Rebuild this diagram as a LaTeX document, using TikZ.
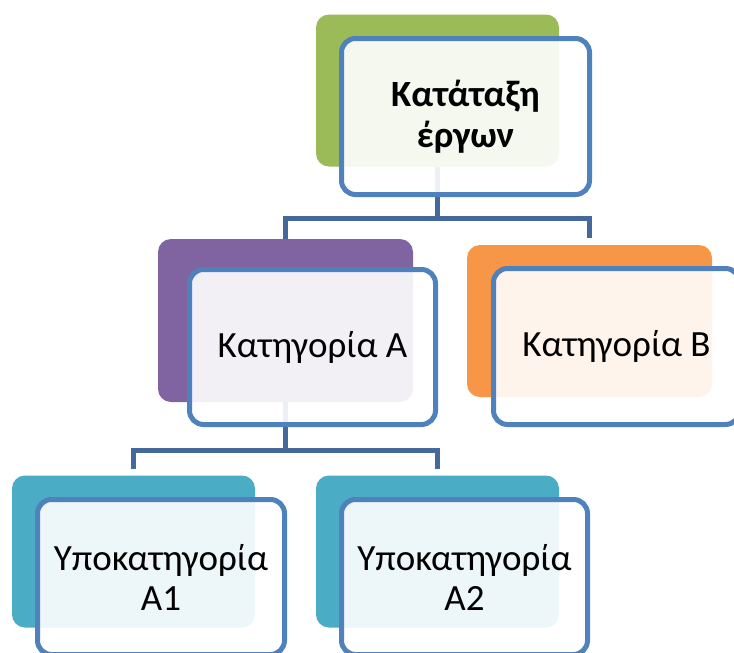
\documentclass[tikz,border=0pt]{standalone}
\usepackage{fontspec}
\setmainfont{Carlito}
\definecolor{bluebord}{HTML}{4F81BD}
\definecolor{bluelink}{HTML}{46699B}
\definecolor{greenbox}{HTML}{9BBB59}
\definecolor{purplebox}{HTML}{8064A2}
\definecolor{orangebox}{HTML}{F79646}
\definecolor{tealbox}{HTML}{4BACC6}
\begin{document}
\begin{tikzpicture}[x=1pt,y=-1pt,
    back/.style={rectangle,rounded corners=13pt,inner sep=0pt,minimum width=243pt,minimum height=152pt},
    front/.style={rectangle,draw=bluebord,line width=5pt,rounded corners=14pt,fill=white,fill opacity=0.9,text opacity=1,
        inner sep=0pt,minimum width=247pt,minimum height=155pt,align=center,font=\fontsize{37}{40}\selectfont},
    link/.style={draw=bluelink,line width=5pt}]
    \useasboundingbox (0,0) rectangle (734,653);
    % Back boxes
    \node[back,fill=greenbox] (topback) at (437.5,90.5){};
    \node[back,fill=purplebox,minimum width=255pt,minimum height=163pt] (aback) at (285.5,320.5){};
    \node[back,fill=orangebox,minimum width=245pt] (bback) at (589.5,321){};
    \node[back,fill=tealbox] (aoneback) at (133.5,551.5){};
    \node[back,fill=tealbox] (atwoback) at (437.5,551.5){};
    % Edges
    \coordinate (topjoin) at (437.5,218);
    \coordinate (ajoin) at (285.5,450);
    \draw[link] (topback.south) -- (topjoin) -| (aback.north);
    \draw[link] (topjoin) -| (589.5,238) coordinate (bend);
    \draw[link] (aback.south) -- (ajoin) -| (133.5,469) coordinate (aoneend);
    \draw[link] (ajoin) -| (437.5,469) coordinate (atwoend);
    % Front boxes
    \node[front,minimum width=248pt,minimum height=156pt,font=\fontsize{37}{41}\selectfont\bfseries] (top) at (465.5,116.5){Κατάταξη\\έργων};
    \node[front,minimum width=246pt] (cata) at (312.5,347){Κατηγορία Α};
    \node[front,minimum width=246pt,minimum height=156pt] (catb) at (616.5,346.5){Κατηγορία Β};
    \node[front] (suba) at (161,577){Υποκατηγορία\\Α1};
    \node[front,minimum width=246pt] (subb) at (464.5,577){Υποκατηγορία\\Α2};
\end{tikzpicture}
\end{document}
